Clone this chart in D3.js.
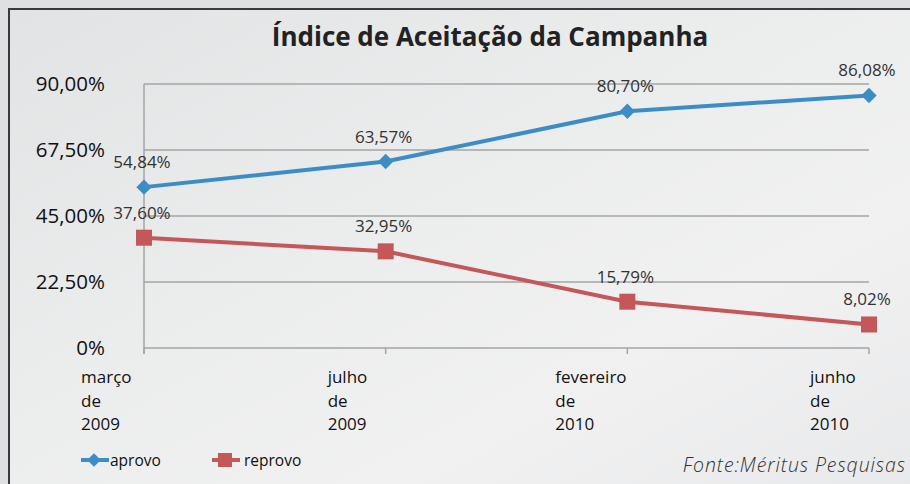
<!DOCTYPE html>
<html><head><meta charset="utf-8">
<script src="https://cdn.jsdelivr.net/npm/d3@7"></script>
<style>body{margin:0;padding:0;overflow:hidden;background:#e4e5e6}svg{display:block}</style>
</head><body>
<script>
const categories = [["março","de","2009"],["julho","de","2009"],["fevereiro","de","2010"],["junho","de","2010"]];
const aprovo = [54.84, 63.57, 80.70, 86.08];
const reprovo = [37.60, 32.95, 15.79, 8.02];
const yTicks = [0, 22.5, 45, 67.5, 90];
const yTickLabels = ["0%", "22,50%", "45,00%", "67,50%", "90,00%"];
const seriesNames = ["aprovo", "reprovo"];
const title = "Índice de Aceitação da Campanha";
const source = "Fonte:Méritus Pesquisas";

const W = 910, H = 484;
const svg = d3.select("body").append("svg").attr("width", W).attr("height", H);
const defs = svg.append("defs");
const g1 = defs.append("linearGradient").attr("id","bg").attr("x1","0").attr("y1","0").attr("x2","1").attr("y2","1");
g1.append("stop").attr("offset","0").attr("stop-color","#e2e3e4");
g1.append("stop").attr("offset","0.45").attr("stop-color","#eceded");
g1.append("stop").attr("offset","0.7").attr("stop-color","#f1f1f2");
g1.append("stop").attr("offset","1").attr("stop-color","#e8e9ea");
svg.append("rect").attr("width",W).attr("height",H).attr("fill","#dfe0e1");
svg.append("rect").attr("x",9).attr("y",9).attr("width",W).attr("height",H)
  .attr("fill","url(#bg)").attr("stroke","#3a3a3a").attr("stroke-width",2);

const x = d3.scalePoint().domain(d3.range(categories.length)).range([144, 869]);
const y = d3.scaleLinear().domain([0, 90]).range([348, 84]);
const fontMain = "'Open Sans', sans-serif";

// gridlines
svg.append("g").selectAll("line").data(yTicks).join("line")
  .attr("x1", 144).attr("x2", 869).attr("y1", d => y(d)).attr("y2", d => y(d))
  .attr("stroke", "#a3a5a7").attr("stroke-width", 1.5);
// vertical axis
svg.append("line").attr("x1",144).attr("x2",144).attr("y1",y(90)).attr("y2",y(0)+6)
  .attr("stroke","#a3a5a7").attr("stroke-width",1.5);
// x ticks
svg.append("g").selectAll("line").data(d3.range(categories.length)).join("line")
  .attr("x1", d => x(d)).attr("x2", d => x(d)).attr("y1", y(0)).attr("y2", y(0)+6)
  .attr("stroke","#a3a5a7").attr("stroke-width",1.5);

// y labels
svg.append("g").selectAll("text").data(yTicks).join("text")
  .attr("x", 105).attr("y", d => y(d) + 7).attr("text-anchor","end")
  .attr("font-family", fontMain).attr("font-size", 20.5).attr("fill","#111")
  .text((d,i) => yTickLabels[i]);

// x labels
const xOff = [-63, -58, -72, -59];
categories.forEach((lines, i) => {
  const t = svg.append("text").attr("font-family", fontMain).attr("font-size", 17).attr("fill","#111");
  lines.forEach((ln, j) => t.append("tspan").attr("x", x(i) + xOff[i]).attr("y", 383 + j*23.5).text(ln));
});

// title
svg.append("text").attr("x", 490).attr("y", 46).attr("text-anchor","middle")
  .attr("font-family", fontMain).attr("font-weight","bold").attr("font-size", 26)
  .attr("fill","#222").text(title);

const colors = ["#3c8dc6", "#c4575a"];
const line = d3.line().x((d,i) => x(i)).y(d => y(d));
[aprovo, reprovo].forEach((s, k) => {
  svg.append("path").attr("d", line(s)).attr("fill","none").attr("stroke",colors[k]).attr("stroke-width",4);
  const m = svg.append("g").selectAll("path").data(s).join("path")
    .attr("fill", colors[k])
    .attr("transform", (d,i) => `translate(${x(i)},${y(d)})`);
  if (k === 0) m.attr("d", d3.symbol().type(d3.symbolDiamond2).size(150));
  else m.attr("d", "M-8,-8H8V8H-8Z");
  svg.append("g").selectAll("text").data(s).join("text")
    .attr("x", (d,i) => x(i) - 2)
    .attr("y", d => y(d) - 19)
    .attr("text-anchor", "middle")
    .attr("font-family", fontMain).attr("font-size", 17).attr("fill","#333")
    .text(d => d.toFixed(2).replace(".", ",") + "%");
});

// legend
const legY = 460;
const lg = svg.append("g");
lg.append("line").attr("x1",81).attr("x2",109).attr("y1",legY).attr("y2",legY).attr("stroke",colors[0]).attr("stroke-width",4);
lg.append("path").attr("d", d3.symbol().type(d3.symbolDiamond2).size(120)).attr("transform",`translate(94,${legY})`).attr("fill",colors[0]);
lg.append("text").attr("x",110).attr("y",legY+6).attr("font-family",fontMain).attr("font-size",15.5).attr("fill","#111").text(seriesNames[0]);
lg.append("line").attr("x1",212).attr("x2",240).attr("y1",legY).attr("y2",legY).attr("stroke",colors[1]).attr("stroke-width",4);
lg.append("path").attr("d","M-7,-7H7V7H-7Z").attr("transform",`translate(225,${legY})`).attr("fill",colors[1]);
lg.append("text").attr("x",244).attr("y",legY+6).attr("font-family",fontMain).attr("font-size",15.5).attr("fill","#111").text(seriesNames[1]);

// source
svg.append("text").attr("x", 906).attr("y", 472).attr("text-anchor","end")
  .attr("font-family", fontMain).attr("font-weight",300).attr("font-style","italic")
  .attr("font-size", 19.5).attr("letter-spacing", 0.9).attr("fill","#333").text(source);
</script>
</body></html>
